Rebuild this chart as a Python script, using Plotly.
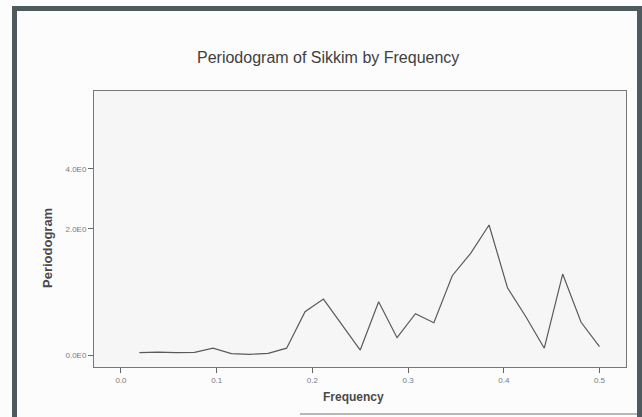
import numpy as np
import plotly.graph_objects as go

# Periodogram of the Sikkim series (52 observations -> Fourier frequencies k/52)
harmonic = list(range(1, 27))
frequency = [k / 52 for k in harmonic]
periodogram = [0.0016, 0.0025, 0.0016, 0.0021, 0.011, 0.0006, 0.0002, 0.0008,
               0.011, 0.297, 0.469, 0.154, 0.0063, 0.430, 0.058, 0.273,
               0.176, 0.873, 1.36, 2.106, 0.651, 0.238, 0.011, 0.906,
               0.180, 0.0156]

y_ticks = [0.0, 2.0, 4.0]
y_tick_text = ["0.0E0", "2.0E0", "4.0E0"]
x_ticks = [0.0, 0.1, 0.2, 0.3, 0.4, 0.5]
x_tick_text = ["0.0", "0.1", "0.2", "0.3", "0.4", "0.5"]

# compressed (power) vertical scale
POWER = 0.561


def scale(v):
    return np.power(np.asarray(v, dtype=float), POWER)


W, H = 642, 417
L, R, T, B = 94, 16, 91, 50
PW, PH = W - L - R, H - T - B


def px(x):
    return (x - L) / PW


def py(y):
    return (H - B - y) / PH


fig = go.Figure()
fig.add_trace(go.Scatter(
    x=frequency, y=scale(periodogram), mode="lines",
    line=dict(color="#5a5a5a", width=1.2), hoverinfo="skip", showlegend=False,
))

tick_font = dict(family="Liberation Sans, Arial, sans-serif", size=8, color="#7a7a7a")

fig.update_xaxes(
    range=[-0.0282, 0.5277], tickmode="array", tickvals=x_ticks, ticktext=x_tick_text,
    ticks="outside", ticklen=5, tickcolor="#666", tickfont=tick_font,
    showline=True, linecolor="#777", linewidth=1, mirror=True,
    showgrid=False, zeroline=False,
)
fig.update_yaxes(
    range=[-0.14, 3.084], tickmode="array", tickvals=list(scale(y_ticks)), ticktext=y_tick_text,
    ticks="outside", ticklen=5, tickcolor="#666", tickfont=tick_font,
    showline=True, linecolor="#777", linewidth=1, mirror=True,
    showgrid=False, zeroline=False,
)

band = "#4f5a5e"
shapes = [
    dict(type="rect", xref="paper", yref="paper", x0=px(12), x1=px(642), y0=py(11), y1=py(6),
         fillcolor=band, line_width=0, layer="above"),
    dict(type="rect", xref="paper", yref="paper", x0=px(12), x1=px(17), y0=py(417), y1=py(6),
         fillcolor=band, line_width=0, layer="above"),
    dict(type="rect", xref="paper", yref="paper", x0=px(637), x1=px(642), y0=py(417), y1=py(6),
         fillcolor=band, line_width=0, layer="above"),
    dict(type="line", xref="paper", yref="paper", x0=px(300), x1=px(637), y0=py(414), y1=py(414),
         line=dict(color="#b8b8b8", width=2), layer="above"),
]

annotations = [
    dict(text="Periodogram of Sikkim by Frequency", xref="paper", yref="paper",
         x=px(328), y=py(58), showarrow=False, xanchor="center", yanchor="middle",
         font=dict(family="Liberation Sans, Arial, sans-serif", size=16, color="#404040")),
    dict(text="<b>Frequency</b>", xref="paper", yref="paper",
         x=px(353), y=py(397), showarrow=False, xanchor="center", yanchor="middle",
         font=dict(family="Liberation Sans, Arial, sans-serif", size=12, color="#4a4a4a")),
    dict(text="<b>Periodogram</b>", xref="paper", yref="paper", textangle=-90,
         x=px(47), y=py(248), showarrow=False, xanchor="center", yanchor="middle",
         font=dict(family="Liberation Sans, Arial, sans-serif", size=13, color="#4a4a4a")),
]

fig.update_layout(
    width=W, height=H, margin=dict(l=L, r=R, t=T, b=B, pad=0),
    paper_bgcolor="#fcfcfc", plot_bgcolor="#f6f6f6",
    shapes=shapes, annotations=annotations,
)

fig.write_html("out.html")
